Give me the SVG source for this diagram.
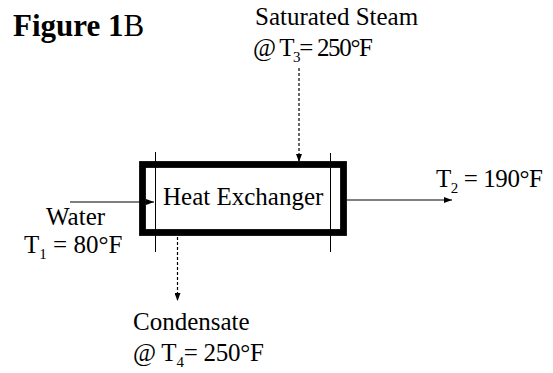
<svg xmlns="http://www.w3.org/2000/svg" width="553" height="373" viewBox="0 0 553 373">
<style>
text{font-family:"Liberation Serif","Times New Roman",serif;font-size:25px;fill:#000}
.sub{font-size:15px}
.title{font-size:31px;font-weight:bold}
.thin{stroke:#000;stroke-width:1;fill:none}
.flow{stroke:#000;stroke-width:1.2;fill:none}
.dash{stroke:#000;stroke-width:1.2;fill:none;stroke-dasharray:3 2}
</style>
<defs>
<marker id="ah" viewBox="0 0 8 6" refX="8" refY="3" markerWidth="8" markerHeight="6" orient="auto" markerUnits="userSpaceOnUse">
<path d="M0,0 L8,3 L0,6 z" fill="#000"/>
</marker>
</defs>
<rect width="553" height="373" fill="#fff"/>
<g id="figure-title">
<text class="title" x="13" y="36">Figure 1<tspan font-weight="normal">B</tspan></text>
</g>
<g id="heat-exchanger">
<rect x="142.5" y="164.5" width="201" height="68" fill="#fff" stroke="#000" stroke-width="6.8"/>
<line class="thin" x1="155.5" y1="152" x2="155.5" y2="252"/>
<line class="thin" x1="330.5" y1="153" x2="330.5" y2="252"/>
<text x="163" y="205">Heat Exchanger</text>
</g>
<g id="steam-label">
<text x="255" y="25">Saturated Steam</text>
<text x="253" y="56" textLength="120" lengthAdjust="spacing">@ T<tspan class="sub" dy="6">3</tspan><tspan dy="-6">= 250°F</tspan></text>
</g>
<g id="water-label">
<text x="46" y="225">Water</text>
<text x="24" y="253">T<tspan class="sub" dy="6">1</tspan><tspan dy="-6"> = 80°F</tspan></text>
</g>
<g id="outlet-label">
<text x="436" y="187" textLength="107">T<tspan class="sub" dy="6">2</tspan><tspan dy="-6"> = 190°F</tspan></text>
</g>
<g id="condensate-label">
<text x="133" y="330">Condensate</text>
<text x="133" y="361" textLength="131" lengthAdjust="spacing">@ T<tspan class="sub" dy="6">4</tspan><tspan dy="-6">= 250°F</tspan></text>
</g>
<g id="connectors">
<line class="flow" x1="70" y1="202" x2="154" y2="202" marker-end="url(#ah)"/>
<line class="flow" x1="347" y1="200" x2="452" y2="200" marker-end="url(#ah)"/>
<line class="dash" x1="299" y1="68" x2="299" y2="162" marker-end="url(#ah)"/>
<line class="dash" x1="177.5" y1="237" x2="177.5" y2="301" marker-end="url(#ah)"/>
</g>
</svg>
